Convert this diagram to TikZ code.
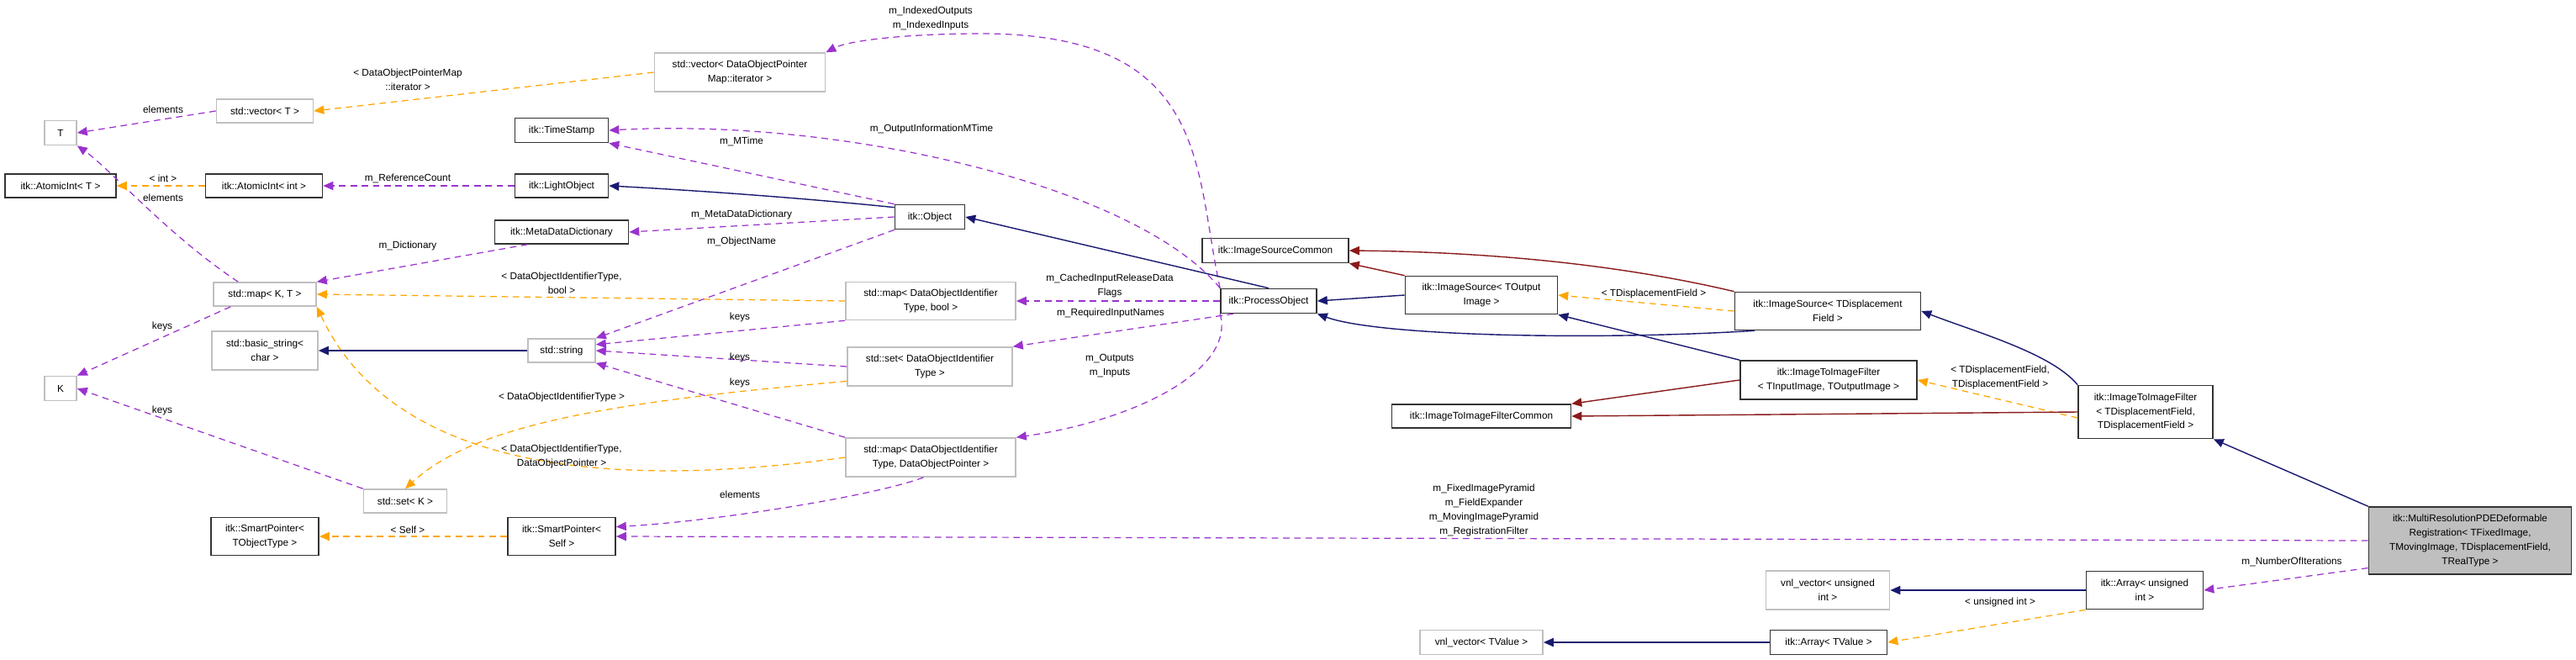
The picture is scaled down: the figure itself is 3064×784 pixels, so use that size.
\documentclass[tikz,border=0pt]{standalone}
\usepackage{fontspec}
\setmainfont{Liberation Sans}
\usetikzlibrary{arrows.meta}
\definecolor{usec}{HTML}{9A32CD}
\definecolor{tplc}{HTML}{FFA500}
\definecolor{inhc}{HTML}{191970}
\definecolor{prvc}{HTML}{8B1A1A}
\definecolor{grayb}{HTML}{BFBFBF}
\begin{document}
\begin{tikzpicture}[x=0.01cm,y=-0.01cm,
  font=\fontsize{3.35}{4.8}\selectfont,
  box/.style={draw=black!80,line width=0.45pt,rectangle,inner sep=0pt,align=center},
  gbox/.style={box,draw=grayb},
  lbl/.style={inner sep=0pt,align=center},
  tip/.style={-{Triangle[length=3.4pt,width=2.9pt]}},
  use/.style={tip,usec,line width=0.35pt,dash pattern=on 2.2pt off 1.6pt},
  tpl/.style={tip,tplc,line width=0.35pt,dash pattern=on 2.2pt off 1.6pt},
  inh/.style={tip,inhc,line width=0.4pt},
  prv/.style={tip,prvc,line width=0.4pt}]
\useasboundingbox (0,0) rectangle (3064,784);
% nodes
\node[gbox,minimum width=0.38cm,minimum height=0.29cm] (T) at (72,158) {T};
\node[gbox,minimum width=1.15cm,minimum height=0.28cm] (vecT) at (315,132) {std::vector< T >};
\node[box,minimum width=1.32cm,minimum height=0.28cm] (aiT) at (72,221) {itk::AtomicInt< T >};
\node[box,minimum width=1.39cm,minimum height=0.28cm] (aiInt) at (314,221) {itk::AtomicInt< int >};
\node[box,minimum width=1.11cm,minimum height=0.29cm] (ts) at (668,155) {itk::TimeStamp};
\node[box,minimum width=1.11cm,minimum height=0.28cm] (lo) at (668,221) {itk::LightObject};
\node[box,minimum width=1.59cm,minimum height=0.28cm] (mdd) at (668,276) {itk::MetaDataDictionary};
\node[gbox,minimum width=1.22cm,minimum height=0.28cm] (mapKT) at (315,350) {std::map< K, T >};
\node[gbox,minimum width=1.26cm,minimum height=0.46cm] (bstr) at (315,417) {std::basic\_string<\\char >};
\node[gbox,minimum width=0.80cm,minimum height=0.28cm] (str) at (668,417) {std::string};
\node[gbox,minimum width=0.38cm,minimum height=0.29cm] (K) at (72,462) {K};
\node[gbox,minimum width=0.99cm,minimum height=0.28cm] (setK) at (482,596) {std::set< K >};
\node[box,minimum width=1.28cm,minimum height=0.45cm] (spT) at (315,638) {itk::SmartPointer<\\TObjectType >};
\node[box,minimum width=1.28cm,minimum height=0.45cm] (spS) at (668,638) {itk::SmartPointer<\\Self >};
\node[gbox,minimum width=2.03cm,minimum height=0.46cm] (vecD) at (880,86) {std::vector< DataObjectPointer\\Map::iterator >};
\node[box,minimum width=0.83cm,minimum height=0.29cm] (obj) at (1106,258) {itk::Object};
\node[box,minimum width=1.74cm,minimum height=0.29cm] (isc) at (1517,298) {itk::ImageSourceCommon};
\node[gbox,minimum width=2.02cm,minimum height=0.45cm] (mapB) at (1107,358) {std::map< DataObjectIdentifier\\Type, bool >};
\node[box,minimum width=1.14cm,minimum height=0.29cm] (po) at (1509,358) {itk::ProcessObject};
\node[gbox,minimum width=1.96cm,minimum height=0.46cm] (setD) at (1106,436) {std::set< DataObjectIdentifier\\Type >};
\node[gbox,minimum width=2.02cm,minimum height=0.46cm] (mapD) at (1107,544) {std::map< DataObjectIdentifier\\Type, DataObjectPointer >};
\node[box,minimum width=2.13cm,minimum height=0.28cm] (itifc) at (1762,495) {itk::ImageToImageFilterCommon};
\node[box,minimum width=1.81cm,minimum height=0.45cm] (isO) at (1762,351) {itk::ImageSource< TOutput\\Image >};
\node[box,minimum width=2.21cm,minimum height=0.45cm] (isD) at (2174,370) {itk::ImageSource< TDisplacement\\Field >};
\node[box,minimum width=2.10cm,minimum height=0.46cm] (itifIO) at (2175,452) {itk::ImageToImageFilter\\< TInputImage, TOutputImage >};
\node[box,minimum width=1.60cm,minimum height=0.63cm] (itifD) at (2552,490) {itk::ImageToImageFilter\\< TDisplacementField,\\TDisplacementField >};
\node[box,fill=grayb,minimum width=2.41cm,minimum height=0.80cm] (main) at (2938,643) {itk::MultiResolutionPDEDeformable\\Registration< TFixedImage,\\TMovingImage, TDisplacementField,\\TRealType >};
\node[box,minimum width=1.39cm,minimum height=0.45cm] (arrU) at (2551,702) {itk::Array< unsigned\\int >};
\node[gbox,minimum width=1.47cm,minimum height=0.46cm] (vnlU) at (2174,702) {vnl\_vector< unsigned\\int >};
\node[gbox,minimum width=1.46cm,minimum height=0.29cm] (vnlT) at (1762,764) {vnl\_vector< TValue >};
\node[box,minimum width=1.39cm,minimum height=0.29cm] (arrT) at (2175,764) {itk::Array< TValue >};
% usage edges
\draw[use] (vecT.west) -- (T.east);
\draw[use] (mapKT.155) .. controls (200,280) and (130,200) .. (T.south east);
\draw[use] (mapKT.200) -- (K.north east);
\draw[use] (setK.north west) -- (K.east);
\draw[use] (lo.west) -- (aiInt.east);
\draw[use] (obj.north west) -- (ts.south east);
\draw[use] (po.north west) .. controls (1350,220) and (1000,140) .. (ts.east);
\draw[use] (obj.west) -- (mdd.east);
\draw[use] (mdd.200) -- (mapKT.north east);
\draw[use] (obj.200) -- (str.north east);
\draw[use] (po.north west) .. controls (1420,200) and (1440,40) .. (1167,40) .. controls (1080,40) and (1010,48) .. (vecD.north east);
\draw[use] (po.west) -- (mapB.east);
\draw[use] (po.200) -- (setD.north east);
\draw[use] (po.south west) .. controls (1470,440) and (1350,500) .. (mapD.north east);
\draw[use] (mapB.south west) -- (str.10);
\draw[use] (setD.west) -- (str.east);
\draw[use] (mapD.north west) -- (str.south east);
\draw[use] (mapD.250) .. controls (1040,590) and (850,620) .. (spS.10);
\draw[use] (main.west) -- (spS.east);
\draw[use] (main.195) -- (arrU.east);
% template edges
\draw[tpl] (vecD.west) -- (vecT.east);
\draw[tpl] (aiInt.west) -- (aiT.east);
\draw[tpl] (mapB.west) -- (mapKT.east);
\draw[tpl] (mapD.west) .. controls (600,600) and (440,500) .. (mapKT.south east);
\draw[tpl] (setD.190) .. controls (700,480) and (560,510) .. (setK.north);
\draw[tpl] (spS.west) -- (spT.east);
\draw[tpl] (isD.west) -- (isO.east);
\draw[tpl] (itifD.185) -- (itifIO.east);
\draw[tpl] (arrU.south west) -- (arrT.east);
% inheritance
\draw[inh] (str.west) -- (bstr.east);
\draw[inh] (obj.165) .. controls (950,235) and (820,226) .. (lo.east);
\draw[inh] (po.north) -- (obj.east);
\draw[inh] (isO.west) -- (po.east);
\draw[inh] (isD.195) .. controls (1900,405) and (1640,400) .. (po.south east);
\draw[inh] (itifIO.north west) -- (isO.south east);
\draw[inh] (itifD.north west) .. controls (2440,420) and (2350,395) .. (isD.east);
\draw[inh] (main.north west) -- (itifD.south east);
\draw[inh] (arrU.west) -- (vnlU.east);
\draw[inh] (arrT.west) -- (vnlT.east);
% private inheritance
\draw[prv] (isO.north west) -- (isc.south east);
\draw[prv] (isD.north west) .. controls (1950,320) and (1800,300) .. (isc.east);
\draw[prv] (itifIO.west) -- (itifc.north east);
\draw[prv] (itifD.west) -- (itifc.east);
% labels
\node[lbl] (l1) at (485,95) {< DataObjectPointerMap\\::iterator >};
\node[lbl] (l2) at (194,130) {elements};
\node[lbl] (l3) at (194,212) {< int >};
\node[lbl] (l4) at (194,235) {elements};
\node[lbl] (l5) at (485,212) {m\_ReferenceCount};
\node[lbl] (l6) at (485,292) {m\_Dictionary};
\node[lbl] (l7) at (668,337) {< DataObjectIdentifierType,\\bool >};
\node[lbl] (l8) at (193,388) {keys};
\node[lbl] (l9) at (193,488) {keys};
\node[lbl] (l10) at (668,472) {< DataObjectIdentifierType >};
\node[lbl] (l11) at (668,543) {< DataObjectIdentifierType,\\DataObjectPointer >};
\node[lbl] (l12) at (485,630) {< Self >};
\node[lbl] (l13) at (1107,22) {m\_IndexedOutputs\\m\_IndexedInputs};
\node[lbl] (l14) at (1108,153) {m\_OutputInformationMTime};
\node[lbl] (l15) at (882,168) {m\_MTime};
\node[lbl] (l16) at (882,255) {m\_MetaDataDictionary};
\node[lbl] (l17) at (882,287) {m\_ObjectName};
\node[lbl] (l18) at (1320,340) {m\_CachedInputReleaseData\\Flags};
\node[lbl] (l19) at (1321,372) {m\_RequiredInputNames};
\node[lbl] (l20) at (880,377) {keys};
\node[lbl] (l21) at (880,425) {keys};
\node[lbl] (l22) at (880,455) {keys};
\node[lbl] (l23) at (1320,435) {m\_Outputs\\m\_Inputs};
\node[lbl] (l24) at (880,588) {elements};
\node[lbl] (l25) at (1967,349) {< TDisplacementField >};
\node[lbl] (l26) at (2379,449) {< TDisplacementField,\\TDisplacementField >};
\node[lbl] (l27) at (1765,607) {m\_FixedImagePyramid\\m\_FieldExpander\\m\_MovingImagePyramid\\m\_RegistrationFilter};
\node[lbl] (l28) at (2726,668) {m\_NumberOfIterations};
\node[lbl] (l29) at (2379,716) {< unsigned int >};
\end{tikzpicture}
\end{document}
